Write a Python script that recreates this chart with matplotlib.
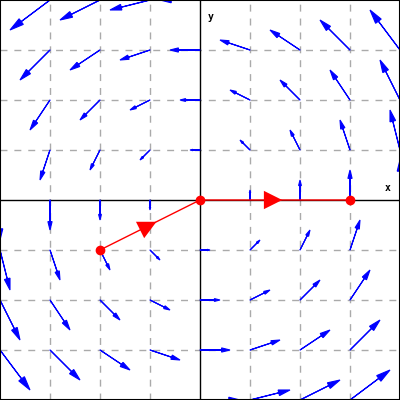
import numpy as np
import matplotlib
matplotlib.use("Agg")
import matplotlib.pyplot as plt

# grid of arrow tails
xs = [-4, -3, -2, -1, 0, 1, 2, 3, 4]
ys = [4, 3, 2, 1, 0, -1, -2, -3, -4]

# field components (rows = ys, cols = xs)
U = [
    [-4, -4, -4, -4, -4, -4, -4, -4, -4],
    [-3, -3, -3, -3, -3, -3, -3, -3, -3],
    [-2, -2, -2, -2, -2, -2, -2, -2, -2],
    [-1, -1, -1, -1, -1, -1, -1, -1, -1],
    [0, 0, 0, 0, 0, 0, 0, 0, 0],
    [1, 1, 1, 1, 1, 1, 1, 1, 1],
    [2, 2, 2, 2, 2, 2, 2, 2, 2],
    [3, 3, 3, 3, 3, 3, 3, 3, 3],
    [4, 4, 4, 4, 4, 4, 4, 4, 4],
]
V = [
    [-4, -3, -2, -1, 0, 1, 2, 3, 4],
    [-4, -3, -2, -1, 0, 1, 2, 3, 4],
    [-4, -3, -2, -1, 0, 1, 2, 3, 4],
    [-4, -3, -2, -1, 0, 1, 2, 3, 4],
    [-4, -3, -2, -1, 0, 1, 2, 3, 4],
    [-4, -3, -2, -1, 0, 1, 2, 3, 4],
    [-4, -3, -2, -1, 0, 1, 2, 3, 4],
    [-4, -3, -2, -1, 0, 1, 2, 3, 4],
    [-4, -3, -2, -1, 0, 1, 2, 3, 4],
]

# path points (line integral path)
path_x = [-2, 0, 3]
path_y = [-1, 0, 0]

arrow_scale = 0.2

fig = plt.figure(figsize=(4, 4), dpi=100)
ax = fig.add_axes([0, 0, 1, 1])
ax.set_xlim(-4, 4)
ax.set_ylim(-4, 4)

# dashed grid
for g in [-3, -2, -1, 1, 2, 3]:
    ax.axvline(g, color="#aaaaaa", lw=1, ls=(0, (5, 5)), zorder=0)
    ax.axhline(g, color="#aaaaaa", lw=1, ls=(0, (5, 5)), zorder=0)

# axes
ax.axhline(0, color="black", lw=1, zorder=1)
ax.axvline(0, color="black", lw=1, zorder=1)
ax.text(3.7, 0.18, "x", fontsize=7, fontweight="bold", family="DejaVu Sans Mono")
ax.text(0.15, 3.6, "y", fontsize=7, fontweight="bold", family="DejaVu Sans Mono")

# vector field
for i, y in enumerate(ys):
    for j, x in enumerate(xs):
        dx = U[i][j] * arrow_scale
        dy = V[i][j] * arrow_scale
        L = np.hypot(dx, dy)
        if L == 0:
            continue
        ax.arrow(x, y, dx, dy, width=0.004, head_width=0.14 * L,
                 head_length=0.28 * L, length_includes_head=True,
                 color="blue", lw=0.8, zorder=2)

# path segments
ax.plot(path_x, path_y, color="red", lw=1, zorder=3)
for k in range(2):
    mx = (path_x[k] + path_x[k + 1]) / 2
    my = (path_y[k] + path_y[k + 1]) / 2
    d = np.array([path_x[k + 1] - path_x[k], path_y[k + 1] - path_y[k]], float)
    d = d / np.hypot(*d) * 0.2
    ax.annotate("", xy=(mx + d[0], my + d[1]), xytext=(mx - d[0], my - d[1]),
                arrowprops=dict(arrowstyle="-|>,head_length=0.6,head_width=0.3",
                                color="red", mutation_scale=22, lw=0),
                zorder=4)
ax.plot(path_x, path_y, "o", color="red", ms=6, zorder=5)

ax.set_xticks([])
ax.set_yticks([])
for s in ax.spines.values():
    s.set_color("black")
    s.set_linewidth(1.5)

fig.savefig("out.png", dpi=100)
